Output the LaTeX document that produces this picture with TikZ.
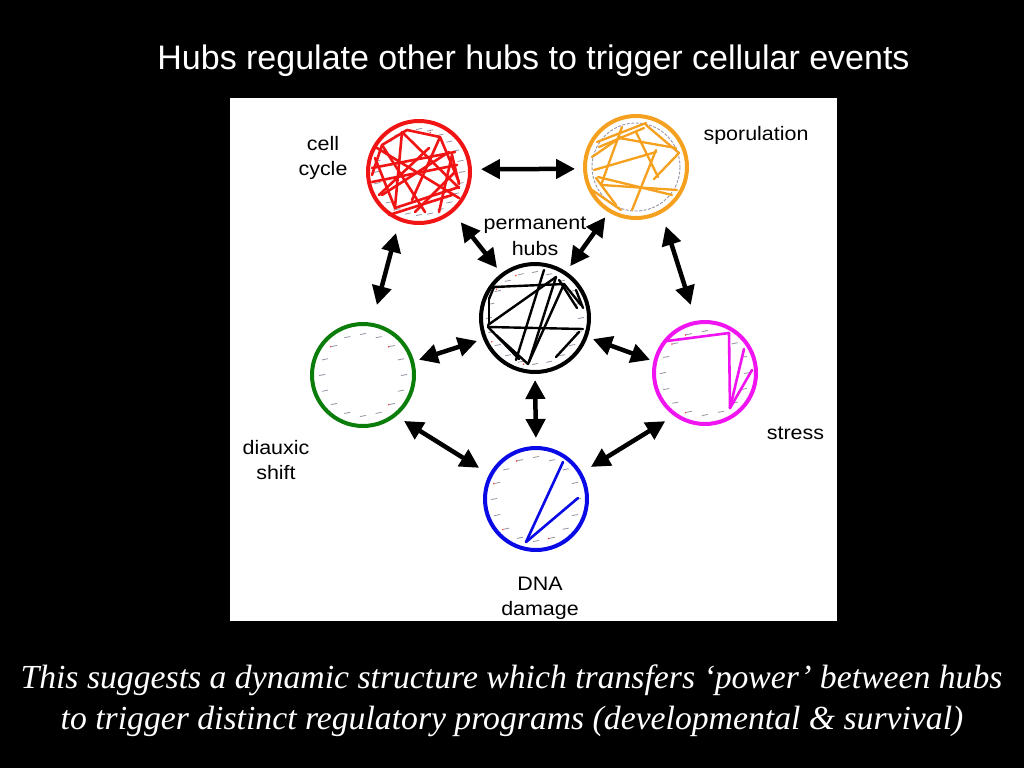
\documentclass[tikz,border=0pt]{standalone}
\usepackage{fontspec}
\setmainfont{Liberation Serif}
\newfontfamily\lsans{Liberation Sans}
\newfontfamily\lsansw[FakeStretch=1.1]{Liberation Sans}
\usetikzlibrary{arrows.meta}
\definecolor{ccred}{RGB}{240,20,20}
\definecolor{sporange}{RGB}{245,160,30}
\definecolor{dxgreen}{RGB}{10,125,10}
\definecolor{stmag}{RGB}{240,20,240}
\definecolor{dnablue}{RGB}{10,10,230}
\definecolor{gmgray}{RGB}{150,150,165}
\begin{document}
\begin{tikzpicture}[x=1pt,y=-1pt,
  ring/.style={circle,draw=#1,line width=4pt,minimum size=102pt,inner sep=0pt,outer sep=2pt},
  hubring/.style={ring=black,minimum size=108pt},
  dbl/.style={line width=4.5pt,{Triangle[length=19pt,width=19pt]}-{Triangle[length=19pt,width=19pt]}},
  edge/.style={line width=2.6pt,draw=#1,line cap=round},
  gm/.style={draw=gmgray,line width=0.8pt},
  gmr/.style={fill=red!80},
  lbl/.style={font=\lsansw\fontsize{19.5}{23}\selectfont,anchor=base,inner sep=0pt,text=black},
  ttl/.style={font=\lsans\fontsize{34}{40}\selectfont,anchor=base,inner sep=0pt,text=white},
  captxt/.style={font=\itshape\fontsize{33.7}{40}\selectfont,anchor=base,inner sep=0pt,text=white}
]
\fill[black] (0,0) rectangle (1024,768);
\path[use as bounding box] (0,0) rectangle (1024,768);
\fill[white] (230,98) rectangle (837,621);

\node[ttl] (title) at (533.5,69) {Hubs regulate other hubs to trigger cellular events};

% circles
\node[ring=ccred] (cc) at (419,172) {};
\node[ring=sporange] (sp) at (636,167) {};
\node[hubring] (hub) at (535,318) {};
\node[ring=dxgreen] (dx) at (363,375) {};
\node[ring=stmag] (st) at (705,373) {};
\node[ring=dnablue] (dna) at (536,499) {};

% gene marks and edges
\begin{scope}[shift={(cc.center)}]
  \foreach \a in {0,15,...,345} {\draw[gm] (\a:43) ++(-3,0.6) -- ++(6,-1.2);}
  \foreach \a in {30,120,200,290} {\fill[gmr] (\a:43) ++(-3.4,0.8) circle (0.8);}
  \foreach \xa/\ya/\xb/\yb in {-37/-27/-12/-42,-17/-40/-24/35,-12/-42/21/-35,21/-35/40/10,
    -47/-4/36/-20,-47/10/38/-7,-37/-27/6/40,-44/-14/-24/36,-24/36/40/15,
    -30/43/33/23,21/-35/-7/28,33/-17/20/40,-37/23/30/-20,-42/-24/40/26,
    -17/-40/40/16,-47/3/-37/-27,-4/40/36/0,-40/23/10/-24,33/-17/40/12}
    {\draw[edge=ccred] (\xa,\ya) -- (\xb,\yb);}
\end{scope}

\begin{scope}[shift={(sp.center)}]
  \draw[gmgray,line width=0.9pt,dash pattern=on 3pt off 1.5pt] (0,0) circle (44);
  \foreach \xa/\ya/\xb/\yb in {-39/-25/10/-44,-37/-20/8/-39,-44/-10/-15/-30,-14/-40/-35/18,
    10/-42/43/-14,-17/-29/40/-19,-42/3/20/-15,20/-17/-4/43,-34/18/41/23,
    -38/10/36/28,-44/23/-15/43,-40/11/-20/38,0/-35/22/10,43/-14/18/12}
    {\draw[edge=sporange,line width=2.3pt] (\xa,\ya) -- (\xb,\yb);}
\end{scope}

\begin{scope}[shift={(hub.center)}]
  \foreach \a in {0,18,...,342} {\draw[gm] (\a:46) ++(-3,0.6) -- ++(6,-1.2);}
  \foreach \a in {100,150,200,220,250} {\fill[gmr] (\a:46) ++(-3.4,0.8) circle (0.8);}
  \foreach \xa/\ya/\xb/\yb in {-41/-31/29/-34,29/-34/46/-13,-46/-19/-46/6,-46/-19/-41/-31,
    -47/9/48/11,-47/7/21/-41,21/-41/-6/44,9/-48/-19/42,-47/9/-16/41,
    -39/17/-7/46,29/-34/-7/46,24/-38/42/-10,44/14/21/39,41/-28/48/-10}
    {\draw[edge=black,line width=2.4pt] (\xa,\ya) -- (\xb,\yb);}
\end{scope}

\begin{scope}[shift={(dx.center)}]
  \foreach \a in {0,22.5,...,337.5} {\draw[gm] (\a:41) ++(-3,0.6) -- ++(6,-1.2);}
  \foreach \a in {45,225,315} {\fill[gmr] (\a:41) ++(-3.4,0.8) circle (0.8);}
\end{scope}

\begin{scope}[shift={(st.center)}]
  \foreach \a in {0,22.5,...,337.5} {\draw[gm] (\a:42) ++(-3,0.6) -- ++(6,-1.2);}
  \foreach \a in {112.5,225,247.5} {\fill[gmr] (\a:42) ++(-3.4,0.8) circle (0.8);}
  \foreach \xa/\ya/\xb/\yb in {-38/-32/24/-40,24/-40/25/35,25/35/39/-24,25/35/47/-3}
    {\draw[edge=stmag] (\xa,\ya) -- (\xb,\yb);}
\end{scope}

\begin{scope}[shift={(dna.center)}]
  \foreach \a in {0,22.5,...,337.5} {\draw[gm] (\a:42) ++(-3,0.6) -- ++(6,-1.2);}
  \foreach \a in {67.5,135,202.5,247.5,0} {\fill[gmr] (\a:42) ++(-3.4,0.8) circle (0.8);}
  \foreach \xa/\ya/\xb/\yb in {-10/43/27/-37,-10/43/42/-1}
    {\draw[edge=dnablue] (\xa,\ya) -- (\xb,\yb);}
\end{scope}

% arrows
\draw[dbl,shorten <=9pt,shorten >=8pt] (cc.3) -- (sp.182);
\draw[dbl,shorten <=12.3pt,shorten >=18.4pt] (cc.248) -- (dx.80);
\draw[dbl,shorten <=12.3pt,shorten >=6.8pt] (cc.310) -- (hub.127);
\draw[dbl,shorten <=5.9pt,shorten >=6.7pt] (sp.239) -- (hub.56);
\draw[dbl,shorten <=13.4pt,shorten >=16.6pt] (sp.299) -- (st.100);
\draw[dbl,shorten <=6.4pt,shorten >=5pt] (hub.202) -- (dx.15);
\draw[dbl,shorten <=5.7pt,shorten >=3.6pt] (hub.340) -- (st.167);
\draw[dbl,shorten <=6pt,shorten >=8pt] (hub.270) -- (dna.90);
\draw[dbl,shorten <=9pt,shorten >=11.9pt] (dx.309) -- (dna.152);
\draw[dbl,shorten <=10.1pt,shorten >=10.6pt] (st.234) -- (dna.30);

% labels
\node[lbl] (ccl1) at (323,150.7) {cell};
\node[lbl] (ccl2) at (323,175) {cycle};
\node[lbl] (spl) at (756,140) {sporulation};
\node[lbl] (hbl1) at (535,229) {permanent};
\node[lbl] (hbl2) at (535,255) {hubs};
\node[lbl] (dxl1) at (276,454) {diauxic};
\node[lbl] (dxl2) at (276,479) {shift};
\node[lbl] (stl) at (795.5,439) {stress};
\node[lbl] (dnal1) at (540,590) {DNA};
\node[lbl] (dnal2) at (540,615) {damage};

\node[captxt] (b1) at (511.5,688) {This suggests a dynamic structure which transfers ‘power’ between hubs};
\node[captxt] (b2) at (512,729) {to trigger distinct regulatory programs (developmental \& survival)};
\end{tikzpicture}
\end{document}
